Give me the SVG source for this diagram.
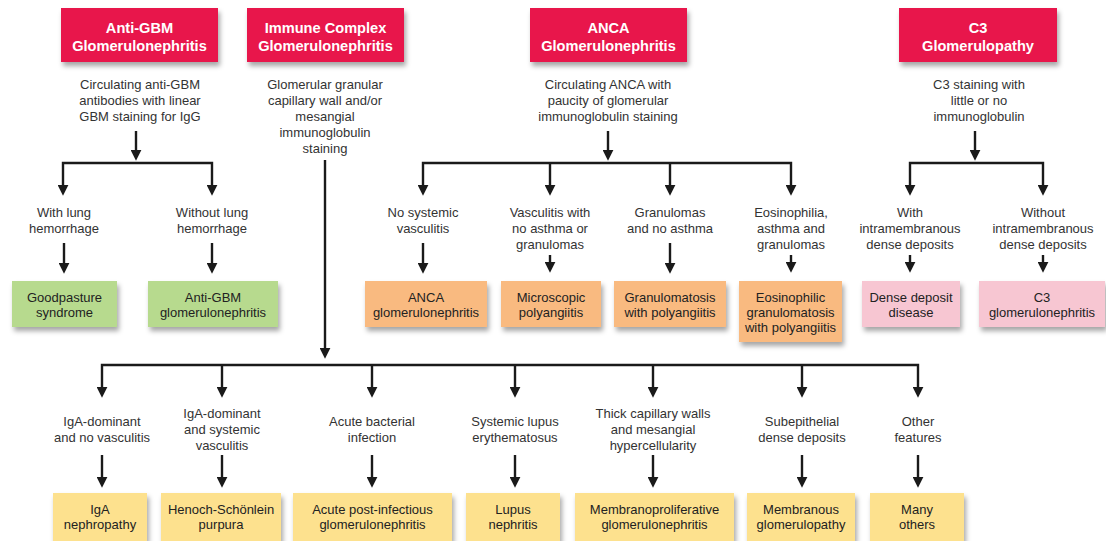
<svg xmlns="http://www.w3.org/2000/svg" width="1106" height="541" viewBox="0 0 1106 541">
<style>
text{font-family:"Liberation Sans",Arial,sans-serif;text-anchor:middle}
.h{fill:#fff;font-weight:bold;font-size:14.6px}
.d{fill:#333;font-size:13px}
.b{fill:#222;font-size:13px}
.hd{fill:#E8174B;filter:url(#sh)}
.g{fill:#B7DA8E;filter:url(#sh)}
.o{fill:#F9BA80;filter:url(#sh)}
.p{fill:#F7C6D2;filter:url(#sh)}
.y{fill:#FDE18E;filter:url(#sh)}
.c path{fill:none;stroke:#1a1a1a;stroke-width:2.4;marker-end:url(#ah)}
.c path.bar{marker-start:url(#ah)}
</style>
<defs>
<filter id="sh" x="-10%" y="-10%" width="125%" height="140%">
<feDropShadow dx="2" dy="4" stdDeviation="2.5" flood-color="#000" flood-opacity="0.35"/>
</filter>
<marker id="ah" markerUnits="userSpaceOnUse" markerWidth="11" markerHeight="11" viewBox="0 0 10 10" refX="2" refY="5" orient="auto-start-reverse">
<path d="M0,0 L10,5 L0,10 z" fill="#1a1a1a"/>
</marker>
</defs>
<rect width="1106" height="541" fill="#fff"/>

<g id="connectors" class="c">
<path d="M136,131 V152"/>
<path class="bar" d="M63,187 V163 H212 V187"/>
<path d="M64,243 V265"/>
<path d="M212,243 V265"/>
<path d="M325,160 V350"/>
<path class="bar" d="M102,389 V365 H918 V389"/>
<path d="M222,365 V389"/>
<path d="M372,365 V389"/>
<path d="M515,365 V389"/>
<path d="M653,365 V389"/>
<path d="M802,365 V389"/>
<path d="M102,455 V479"/>
<path d="M222,455 V479"/>
<path d="M372,455 V479"/>
<path d="M515,455 V479"/>
<path d="M653,455 V479"/>
<path d="M802,455 V479"/>
<path d="M918,455 V479"/>
<path d="M608,131 V152"/>
<path class="bar" d="M423,187 V163 H791 V187"/>
<path d="M550,163 V187"/>
<path d="M670,163 V187"/>
<path d="M423,243 V265"/>
<path d="M550,255 V264"/>
<path d="M670,243 V265"/>
<path d="M791,255 V264"/>
<path d="M975,131 V152"/>
<path class="bar" d="M910,187 V163 H1043 V187"/>
<path d="M910,255 V264"/>
<path d="M1043,255 V264"/>
</g>

<g id="antigbm">
<rect class="hd" x="61" y="8" width="157" height="54"/>
<text class="h" x="139.5" y="33">Anti-GBM</text>
<text class="h" x="139.5" y="51">Glomerulonephritis</text>
</g>
<g id="antigbm-desc">
<text class="d" x="140" y="89">Circulating anti-GBM</text>
<text class="d" x="140" y="105">antibodies with linear</text>
<text class="d" x="140" y="121">GBM staining for IgG</text>
</g>
<g id="lung-yes"><text class="d" x="64" y="217">With lung</text><text class="d" x="64" y="233">hemorrhage</text></g>
<g id="lung-no"><text class="d" x="212" y="217">Without lung</text><text class="d" x="212" y="233">hemorrhage</text></g>
<g id="goodpasture">
<rect class="g" x="12" y="281" width="105" height="46"/>
<text class="b" x="64.5" y="302">Goodpasture</text><text class="b" x="64.5" y="317">syndrome</text>
</g>
<g id="antigbm-gn">
<rect class="g" x="148" y="281" width="130" height="46"/>
<text class="b" x="213" y="302">Anti-GBM</text><text class="b" x="213" y="317">glomerulonephritis</text>
</g>

<g id="immune">
<rect class="hd" x="247" y="8" width="157" height="54"/>
<text class="h" x="325.5" y="33">Immune Complex</text>
<text class="h" x="325.5" y="51">Glomerulonephritis</text>
</g>
<g id="immune-desc">
<text class="d" x="325" y="89">Glomerular granular</text>
<text class="d" x="325" y="105">capillary wall and/or</text>
<text class="d" x="325" y="121">mesangial</text>
<text class="d" x="325" y="137">immunoglobulin</text>
<text class="d" x="325" y="153">staining</text>
</g>

<g id="anca">
<rect class="hd" x="530" y="8" width="157" height="54"/>
<text class="h" x="608.5" y="33">ANCA</text>
<text class="h" x="608.5" y="51">Glomerulonephritis</text>
</g>
<g id="anca-desc">
<text class="d" x="608" y="89">Circulating ANCA with</text>
<text class="d" x="608" y="105">paucity of glomerular</text>
<text class="d" x="608" y="121">immunoglobulin staining</text>
</g>
<g id="l-nosys"><text class="d" x="423" y="217">No systemic</text><text class="d" x="423" y="233">vasculitis</text></g>
<g id="l-vasc"><text class="d" x="550" y="217">Vasculitis with</text><text class="d" x="550" y="233">no asthma or</text><text class="d" x="550" y="249">granulomas</text></g>
<g id="l-gran"><text class="d" x="670" y="217">Granulomas</text><text class="d" x="670" y="233">and no asthma</text></g>
<g id="l-eos"><text class="d" x="791" y="217">Eosinophilia,</text><text class="d" x="791" y="233">asthma  and</text><text class="d" x="791" y="249">granulomas</text></g>
<g id="anca-gn">
<rect class="o" x="365" y="281" width="122" height="46"/>
<text class="b" x="426" y="302">ANCA</text><text class="b" x="426" y="317">glomerulonephritis</text>
</g>
<g id="mpa">
<rect class="o" x="501" y="281" width="100" height="46"/>
<text class="b" x="551" y="302">Microscopic</text><text class="b" x="551" y="317">polyangiitis</text>
</g>
<g id="gpa">
<rect class="o" x="614" y="281" width="112" height="46"/>
<text class="b" x="670" y="302">Granulomatosis</text><text class="b" x="670" y="317">with polyangiitis</text>
</g>
<g id="egpa">
<rect class="o" x="739" y="281" width="103" height="61"/>
<text class="b" x="790.5" y="302">Eosinophilic</text><text class="b" x="790.5" y="317">granulomatosis</text><text class="b" x="790.5" y="332">with polyangiitis</text>
</g>

<g id="c3">
<rect class="hd" x="899" y="8" width="158" height="54"/>
<text class="h" x="978" y="33">C3</text>
<text class="h" x="978" y="51">Glomerulopathy</text>
</g>
<g id="c3-desc">
<text class="d" x="979" y="89">C3 staining with</text>
<text class="d" x="979" y="105">little or no</text>
<text class="d" x="979" y="121">immunoglobulin</text>
</g>
<g id="l-with"><text class="d" x="910" y="217">With</text><text class="d" x="910" y="233">intramembranous</text><text class="d" x="910" y="249">dense deposits</text></g>
<g id="l-without"><text class="d" x="1043" y="217">Without</text><text class="d" x="1043" y="233">intramembranous</text><text class="d" x="1043" y="249">dense deposits</text></g>
<g id="ddd">
<rect class="p" x="862" y="281" width="98" height="46"/>
<text class="b" x="911" y="302">Dense deposit</text><text class="b" x="911" y="317">disease</text>
</g>
<g id="c3gn">
<rect class="p" x="979" y="281" width="126" height="46"/>
<text class="b" x="1042" y="302">C3</text><text class="b" x="1042" y="317">glomerulonephritis</text>
</g>

<g id="l-iga"><text class="d" x="102" y="426">IgA-dominant</text><text class="d" x="102" y="442">and no vasculitis</text></g>
<g id="l-igasys"><text class="d" x="222" y="418">IgA-dominant</text><text class="d" x="222" y="434">and systemic</text><text class="d" x="222" y="450">vasculitis</text></g>
<g id="l-bact"><text class="d" x="372" y="426">Acute bacterial</text><text class="d" x="372" y="442">infection</text></g>
<g id="l-sle"><text class="d" x="515" y="426">Systemic lupus</text><text class="d" x="515" y="442">erythematosus</text></g>
<g id="l-thick"><text class="d" x="653" y="418">Thick capillary walls</text><text class="d" x="653" y="434">and mesangial</text><text class="d" x="653" y="450">hypercellularity</text></g>
<g id="l-subep"><text class="d" x="802" y="426">Subepithelial</text><text class="d" x="802" y="442">dense deposits</text></g>
<g id="l-other"><text class="d" x="918" y="426">Other</text><text class="d" x="918" y="442">features</text></g>

<g id="igan">
<rect class="y" x="53" y="493" width="94" height="48"/>
<text class="b" x="100" y="514">IgA</text><text class="b" x="100" y="529">nephropathy</text>
</g>
<g id="hsp">
<rect class="y" x="161" y="493" width="120" height="48"/>
<text class="b" x="221" y="514">Henoch-Schönlein</text><text class="b" x="221" y="529">purpura</text>
</g>
<g id="apign">
<rect class="y" x="293" y="493" width="159" height="48"/>
<text class="b" x="372.5" y="514">Acute post-infectious</text><text class="b" x="372.5" y="529">glomerulonephritis</text>
</g>
<g id="ln">
<rect class="y" x="466" y="493" width="94" height="48"/>
<text class="b" x="513" y="514">Lupus</text><text class="b" x="513" y="529">nephritis</text>
</g>
<g id="mpgn">
<rect class="y" x="575" y="493" width="159" height="48"/>
<text class="b" x="654.5" y="514">Membranoproliferative</text><text class="b" x="654.5" y="529">glomerulonephritis</text>
</g>
<g id="mgn">
<rect class="y" x="747" y="493" width="108" height="48"/>
<text class="b" x="801" y="514">Membranous</text><text class="b" x="801" y="529">glomerulopathy</text>
</g>
<g id="others">
<rect class="y" x="870" y="493" width="94" height="48"/>
<text class="b" x="917" y="514">Many</text><text class="b" x="917" y="529">others</text>
</g>
</svg>
